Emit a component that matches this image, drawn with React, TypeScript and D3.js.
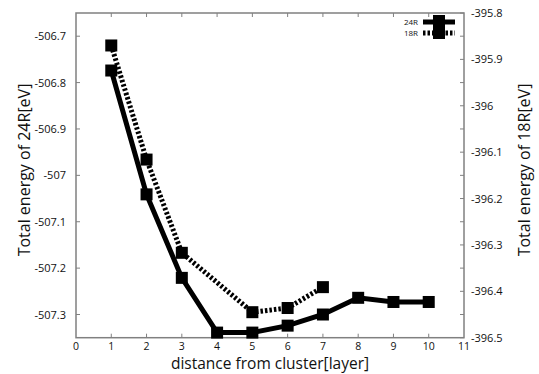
import React from "react";
import * as d3 from "d3";

const layers24 = [1, 2, 3, 4, 5, 6, 7, 8, 9, 10];
const energy24 = [-506.774, -507.041, -507.221, -507.339, -507.339, -507.324, -507.3, -507.264, -507.273, -507.273];
const layers18 = [1, 2, 3, 5, 6, 7];
const energy18 = [-395.87, -396.116, -396.317, -396.445, -396.436, -396.391];
const xTicks = [0, 1, 2, 3, 4, 5, 6, 7, 8, 9, 10, 11];
const yLeftTicks = [-506.7, -506.8, -506.9, -507, -507.1, -507.2, -507.3];
const yRightTicks = [-395.8, -395.9, -396, -396.1, -396.2, -396.3, -396.4, -396.5];

const W = 539, H = 374;
const L = 76, R = 464, T = 13, B = 337.7;
const FONT = "'Open Sans', sans-serif";

export default function App() {
  const x = d3.scaleLinear().domain([0, 11]).range([L, R]);
  const yL = d3.scaleLinear().domain([-507.35, -506.65]).range([B, T]);
  const yR = d3.scaleLinear().domain([-396.5, -395.8]).range([B, T]);
  const line24 = d3.line<number>().x((_, i) => x(layers24[i])).y((d) => yL(d));
  const line18 = d3.line<number>().x((_, i) => x(layers18[i])).y((d) => yR(d));
  const axisColor = "#808080";
  const ms = 12;
  const fmt = (v: number) => String(v);
  const midY = 170;
  return (
    <div style={{ position: "absolute", left: 0, top: 0 }}>
      <svg width={W} height={H} style={{ display: "block", background: "#fff" }}>
        {xTicks.slice(1, -1).map((t) => (
          <g key={"xt" + t} stroke={axisColor} strokeWidth={1}>
            <line x1={x(t)} x2={x(t)} y1={B} y2={B - 4} />
            <line x1={x(t)} x2={x(t)} y1={T} y2={T + 4} />
          </g>
        ))}
        {yLeftTicks.map((t) => (
          <g key={"yl" + t} stroke={axisColor} strokeWidth={1}>
            <line x1={L} x2={L + 4} y1={yL(t)} y2={yL(t)} />
            <line x1={R} x2={R - 4} y1={yL(t)} y2={yL(t)} />
          </g>
        ))}
        {yRightTicks.map((t) => (
          <line key={"yr" + t} stroke={axisColor} strokeWidth={1} x1={R} x2={R - 4} y1={yR(t)} y2={yR(t)} />
        ))}
        <rect x={L} y={T} width={R - L} height={B - T} fill="none" stroke={axisColor} strokeWidth={1.5} />
        {xTicks.map((t) => (
          <text key={"xl" + t} x={x(t)} y={349.5} textAnchor="middle" fontFamily={FONT} fontSize={10.5} fill="#111">{t}</text>
        ))}
        {yLeftTicks.map((t) => (
          <text key={"yll" + t} x={66} y={yL(t) + 4} textAnchor="end" fontFamily={FONT} fontSize={11} fill="#111">{fmt(t)}</text>
        ))}
        {yRightTicks.map((t) => (
          <text key={"yrl" + t} x={471} y={yR(t) + 4} textAnchor="start" fontFamily={FONT} fontSize={11} fill="#111">{fmt(t)}</text>
        ))}
        <path d={line24(energy24) || ""} fill="none" stroke="#000" strokeWidth={5} strokeLinejoin="miter" />
        <path d={line18(energy18) || ""} fill="none" stroke="#000" strokeWidth={5} strokeDasharray="2.5,2" />
        {energy24.map((v, i) => (
          <rect key={"m24" + i} x={x(layers24[i]) - ms / 2} y={yL(v) - ms / 2} width={ms} height={ms} fill="#000" />
        ))}
        {energy18.map((v, i) => (
          <rect key={"m18" + i} x={x(layers18[i]) - ms / 2} y={yR(v) - ms / 2} width={ms} height={ms} fill="#000" />
        ))}
        <text x={418} y={25} textAnchor="end" fontFamily={FONT} fontSize={8} fill="#111">24R</text>
        <text x={418} y={36} textAnchor="end" fontFamily={FONT} fontSize={8} fill="#111">18R</text>
        <line x1={423} x2={455} y1={22} y2={22} stroke="#000" strokeWidth={5} />
        <line x1={423} x2={455} y1={33} y2={33} stroke="#000" strokeWidth={5} strokeDasharray="2.5,2" />
        <rect x={433} y={15} width={12} height={12} fill="#000" />
        <rect x={433} y={27} width={12} height={12} fill="#000" />
        <text x={270} y={369.3} textAnchor="middle" fontFamily={FONT} fontSize={15.5} fill="#111">distance from cluster[layer]</text>
        <text transform={`translate(30,${midY}) rotate(-90)`} textAnchor="middle" fontFamily={FONT} fontSize={16} fill="#111">Total energy of 24R[eV]</text>
        <text transform={`translate(530,${midY}) rotate(-90)`} textAnchor="middle" fontFamily={FONT} fontSize={16} fill="#111">Total energy of 18R[eV]</text>
      </svg>
    </div>
  );
}
